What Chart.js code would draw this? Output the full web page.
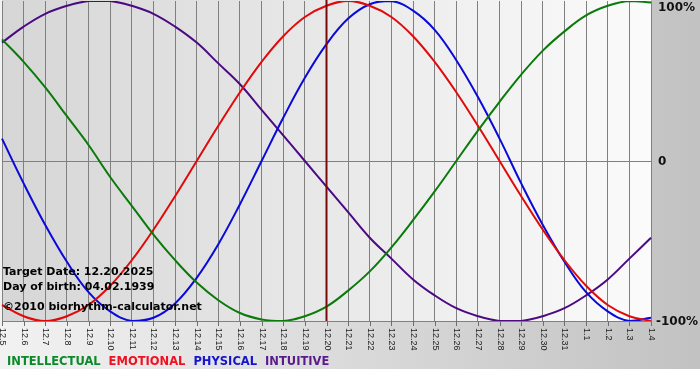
<!DOCTYPE html>
<html>
<head>
<meta charset="utf-8">
<script src="https://cdn.jsdelivr.net/npm/chart.js@4/dist/chart.umd.min.js"></script>
<style>
  body { margin: 0; background: #fff; }
  canvas { display: block; }
</style>
</head>
<body>
<canvas id="bioChart" width="700" height="380"></canvas>
<script>
// dates along the bottom (MM.DD)
const dates = ['12.5','12.6','12.7','12.8','12.9','12.10','12.11','12.12','12.13','12.14',
  '12.15','12.16','12.17','12.18','12.19','12.20','12.21','12.22','12.23','12.24',
  '12.25','12.26','12.27','12.28','12.29','12.30','12.31','1.1','1.2','1.3','1.4'];

// cycle values (-1 .. 1)
const intellectual = [0.76,0.62,0.46,0.28,0.10,-0.10,-0.28,-0.46,-0.62,-0.76,
  -0.87,-0.95,-0.99,-1.00,-0.97,-0.91,-0.81,-0.69,-0.54,-0.37,
  -0.19,0,0.19,0.37,0.54,0.69,0.81,0.91,0.97,1.00,0.99];
const emotional = [-0.90,-0.97,-1.00,-0.97,-0.90,-0.78,-0.62,-0.43,-0.22,0,
  0.22,0.43,0.62,0.78,0.90,0.97,1.00,0.97,0.90,0.78,
  0.62,0.43,0.22,0,-0.22,-0.43,-0.62,-0.78,-0.90,-0.97,-1.00];
const physical = [0.14,-0.14,-0.40,-0.63,-0.82,-0.94,-1.00,-0.98,-0.89,-0.73,
  -0.52,-0.27,0,0.27,0.52,0.73,0.89,0.98,1.00,0.94,
  0.82,0.63,0.40,0.14,-0.14,-0.40,-0.63,-0.82,-0.94,-1.00,-0.98];
const intuitive = [0.74,0.84,0.92,0.97,1.00,1.00,0.97,0.92,0.84,0.74,
  0.61,0.48,0.32,0.16,0,-0.16,-0.32,-0.48,-0.61,-0.74,
  -0.84,-0.92,-0.97,-1.00,-1.00,-0.97,-0.92,-0.84,-0.74,-0.61,-0.48];

const yLabels = { '1': '100%', '0': '0', '-1': '-100%' };
const targetDate = '12.20';
const infoLines = ['Target Date: 12.20.2025', 'Day of birth: 04.02.1939', '\u00a92010 biorhythm-calculator.net'];
const legendItems = [
  { text: 'INTELLECTUAL', color: '#0b8a2c' },
  { text: 'EMOTIONAL', color: '#ee1122' },
  { text: 'PHYSICAL', color: '#1414cc' },
  { text: 'INTUITIVE', color: '#5a1a8c' }
];

const bgPlugin = {
  id: 'bg',
  beforeDraw(chart) {
    const c = chart.ctx, a = chart.chartArea;
    c.save();
    let g = c.createLinearGradient(0, 0, chart.width, 0);
    g.addColorStop(0, '#f2f2f2');
    g.addColorStop(1, '#c2c2c2');
    c.fillStyle = g;
    c.fillRect(0, 0, chart.width, 369);
    c.fillStyle = '#fff';
    c.fillRect(0, 369, chart.width, chart.height - 369);
    g = c.createLinearGradient(a.left, 0, a.right, 0);
    g.addColorStop(0, '#d6d6d6');
    g.addColorStop(1, '#fbfbfb');
    c.fillStyle = g;
    c.fillRect(a.left, 0, a.right - a.left, a.bottom);
    c.restore();
  }
};

const overlayPlugin = {
  id: 'overlay',
  afterDatasetsDraw(chart) {
    const c = chart.ctx, a = chart.chartArea;
    const xs = chart.scales.x, ys = chart.scales.y;
    c.save();
    // target date marker
    const mx = xs.getPixelForValue(dates.indexOf(targetDate));
    c.strokeStyle = '#7a0a0a';
    c.lineWidth = 2;
    c.beginPath();
    c.moveTo(mx, 0);
    c.lineTo(mx, a.bottom);
    c.stroke();

    // ticks + rotated date labels
    c.strokeStyle = '#6e6e6e';
    c.lineWidth = 1;
    c.fillStyle = '#222';
    c.font = '9px "Liberation Sans", Arial, sans-serif';
    dates.forEach((d, i) => {
      const x = Math.round(xs.getPixelForValue(i)) + 0.5;
      c.beginPath();
      c.moveTo(x, a.bottom);
      c.lineTo(x, a.bottom + 5);
      c.stroke();
      c.save();
      c.translate(x, a.bottom + 7);
      c.rotate(Math.PI / 2);
      c.textAlign = 'left';
      c.textBaseline = 'middle';
      c.fillText(d, 0, 0);
      c.restore();
    });

    // right side percent labels
    c.font = 'bold 12px "DejaVu Sans", Verdana, sans-serif';
    c.fillStyle = '#111';
    c.textAlign = 'left';
    c.textBaseline = 'middle';
    Object.keys(yLabels).forEach(v => {
      let y = ys.getPixelForValue(Number(v)) + 1;
      y = Math.max(8, Math.min(y, a.bottom + 2));
      c.fillText(yLabels[v], a.right + (v === '-1' ? 5 : 7), y);
    });

    // info text
    c.font = 'bold 11px "DejaVu Sans", Verdana, sans-serif';
    c.fillStyle = '#000';
    [272, 287, 307.5].forEach((y, i) => c.fillText(infoLines[i], 3, y));

    // legend
    c.font = 'bold 11.5px "DejaVu Sans", Verdana, sans-serif';
    let lx = 7;
    legendItems.forEach(it => {
      c.fillStyle = it.color;
      c.fillText(it.text, lx, 362);
      lx += c.measureText(it.text).width + 8;
    });
    c.restore();
  }
};

function line(label, data, color) {
  return {
    label: label,
    data: data,
    borderColor: color,
    borderWidth: 2,
    pointRadius: 0,
    tension: 0.4,
    fill: false
  };
}

new Chart(document.getElementById('bioChart').getContext('2d'), {
  type: 'line',
  data: {
    labels: dates,
    datasets: [
      line('INTELLECTUAL', intellectual, '#0a7a0a'),
      line('EMOTIONAL', emotional, '#e00a0a'),
      line('PHYSICAL', physical, '#0a0ad8'),
      line('INTUITIVE', intuitive, '#4b0a82')
    ]
  },
  options: {
    responsive: false,
    animation: false,
    layout: { padding: { left: 2, right: 49, top: 1, bottom: 59 } },
    plugins: { legend: { display: false }, tooltip: { enabled: false } },
    scales: {
      x: {
        offset: false,
        ticks: { display: false },
        grid: { color: '#808080', lineWidth: 1, drawTicks: false },
        border: { display: false }
      },
      y: {
        position: 'right',
        min: -1,
        max: 1,
        ticks: { display: false, stepSize: 1 },
        grid: {
          drawTicks: false,
          color: ctx => ctx.tick && ctx.tick.value === 1 ? 'rgba(0,0,0,0)' : '#808080'
        },
        border: { display: true, color: '#808080' }
      }
    }
  },
  plugins: [bgPlugin, overlayPlugin]
});
</script>
</body>
</html>
